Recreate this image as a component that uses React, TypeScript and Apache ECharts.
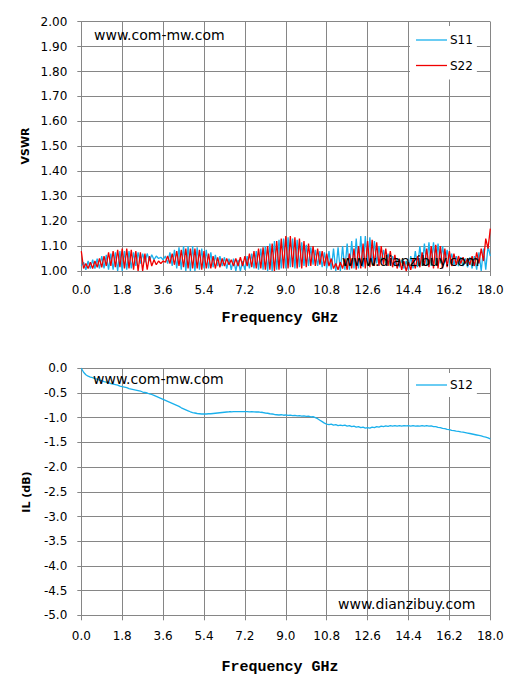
import React, { useEffect, useRef } from "react";
import * as echarts from "echarts";

const FREQ_START = 0;
const FREQ_STEP = 0.1;

const X_TICKS = ["0.0", "1.8", "3.6", "5.4", "7.2", "9.0", "10.8", "12.6", "14.4", "16.2", "18.0"];

const S11 = [
  1.02, 1.035, 1.005, 1.04, 1.01, 1.045, 1.01, 1.05, 1.01, 1.06,
  1.01, 1.065, 1.005, 1.07, 1.005, 1.075, 1.0, 1.08, 1.0, 1.08,
  1.005, 1.08, 1.01, 1.075, 1.02, 1.075, 1.03, 1.07, 1.035, 1.07,
  1.04, 1.065, 1.045, 1.06, 1.05, 1.055, 1.045, 1.06, 1.03, 1.075,
  1.02, 1.085, 1.01, 1.095, 1.005, 1.1, 1.0, 1.1, 1.0, 1.1,
  1.0, 1.095, 1.005, 1.09, 1.01, 1.085, 1.01, 1.075, 1.015, 1.065,
  1.02, 1.06, 1.02, 1.055, 1.01, 1.05, 1.005, 1.05, 1.0, 1.045,
  1.0, 1.04, 1.005, 1.06, 1.01, 1.07, 1.01, 1.08, 1.005, 1.09,
  1.005, 1.1, 1.0, 1.11, 1.0, 1.12, 1.005, 1.125, 1.01, 1.13,
  1.01, 1.135, 1.015, 1.13, 1.01, 1.125, 1.015, 1.115, 1.02, 1.105,
  1.02, 1.095, 1.025, 1.085, 1.02, 1.08, 1.015, 1.075, 1.01, 1.08,
  1.005, 1.09, 1.0, 1.095, 1.0, 1.1, 1.005, 1.11, 1.005, 1.12,
  1.01, 1.13, 1.01, 1.14, 1.015, 1.14, 1.02, 1.135, 1.025, 1.12,
  1.03, 1.1, 1.035, 1.085, 1.03, 1.07, 1.025, 1.06, 1.02, 1.05,
  1.015, 1.045, 1.01, 1.04, 1.005, 1.06, 1.01, 1.08, 1.015, 1.1,
  1.02, 1.11, 1.02, 1.115, 1.02, 1.115, 1.025, 1.11, 1.03, 1.1,
  1.035, 1.085, 1.03, 1.07, 1.025, 1.06, 1.02, 1.055, 1.02, 1.05,
  1.015, 1.055, 1.01, 1.06, 1.005, 1.075, 1.0, 1.09, 1.005, 1.1,
  1.06,
];

const S22 = [
  1.08, 1.01, 1.03, 1.01, 1.035, 1.01, 1.04, 1.015, 1.05, 1.015,
  1.06, 1.02, 1.075, 1.02, 1.08, 1.015, 1.085, 1.015, 1.09, 1.01,
  1.09, 1.01, 1.085, 1.005, 1.08, 1.0, 1.075, 1.0, 1.07, 1.005,
  1.06, 1.02, 1.045, 1.025, 1.04, 1.03, 1.04, 1.035, 1.06, 1.03,
  1.07, 1.025, 1.08, 1.02, 1.085, 1.015, 1.09, 1.01, 1.09, 1.01,
  1.09, 1.01, 1.085, 1.005, 1.08, 1.01, 1.07, 1.01, 1.06, 1.01,
  1.055, 1.015, 1.05, 1.02, 1.05, 1.025, 1.045, 1.02, 1.05, 1.02,
  1.055, 1.02, 1.06, 1.02, 1.07, 1.015, 1.08, 1.01, 1.09, 1.01,
  1.095, 1.005, 1.1, 1.005, 1.11, 1.0, 1.12, 1.005, 1.13, 1.01,
  1.14, 1.01, 1.14, 1.015, 1.135, 1.01, 1.13, 1.01, 1.12, 1.015,
  1.11, 1.02, 1.1, 1.02, 1.09, 1.025, 1.08, 1.02, 1.07, 1.02,
  1.05, 1.01, 1.03, 1.005, 1.035, 1.01, 1.05, 1.005, 1.07, 1.01,
  1.09, 1.005, 1.1, 1.01, 1.11, 1.01, 1.12, 1.015, 1.125, 1.02,
  1.115, 1.02, 1.1, 1.025, 1.09, 1.02, 1.08, 1.015, 1.065, 1.01,
  1.05, 1.005, 1.04, 1.0, 1.035, 1.005, 1.05, 1.01, 1.06, 1.015,
  1.075, 1.02, 1.09, 1.015, 1.1, 1.01, 1.105, 1.01, 1.1, 1.01,
  1.09, 1.015, 1.08, 1.02, 1.07, 1.025, 1.06, 1.03, 1.055, 1.03,
  1.05, 1.025, 1.06, 1.02, 1.075, 1.03, 1.09, 1.04, 1.13, 1.09,
  1.17,
];

const S12 = [
  0.0, -0.08, -0.13, -0.16, -0.18, -0.19, -0.21, -0.22, -0.24, -0.25,
  -0.27, -0.28, -0.29, -0.31, -0.32, -0.33, -0.34, -0.36, -0.37, -0.38,
  -0.39, -0.41, -0.42, -0.43, -0.44, -0.45, -0.46, -0.48, -0.49, -0.5,
  -0.52, -0.53, -0.55, -0.57, -0.59, -0.61, -0.63, -0.65, -0.67, -0.69,
  -0.71, -0.73, -0.75, -0.77, -0.8, -0.82, -0.84, -0.86, -0.88, -0.895,
  -0.905, -0.915, -0.92, -0.925, -0.925, -0.925, -0.92, -0.92, -0.915, -0.91,
  -0.905, -0.9, -0.895, -0.89, -0.885, -0.88, -0.88, -0.875, -0.875, -0.875,
  -0.875, -0.875, -0.875, -0.875, -0.88, -0.875, -0.88, -0.885, -0.88, -0.89,
  -0.895, -0.905, -0.91, -0.92, -0.925, -0.935, -0.94, -0.945, -0.94, -0.95,
  -0.945, -0.955, -0.95, -0.96, -0.955, -0.965, -0.96, -0.97, -0.965, -0.975,
  -0.97, -0.985, -0.98, -1.0, -1.02, -1.05, -1.08, -1.11, -1.13, -1.14,
  -1.13, -1.15, -1.14, -1.16, -1.15, -1.16, -1.15, -1.17, -1.16, -1.18,
  -1.17, -1.19, -1.18, -1.2, -1.19, -1.21, -1.2, -1.21, -1.19, -1.2,
  -1.18, -1.19, -1.17, -1.18, -1.165, -1.175, -1.16, -1.17, -1.16, -1.17,
  -1.16, -1.17, -1.16, -1.165, -1.16, -1.17, -1.16, -1.17, -1.165, -1.17,
  -1.16, -1.17, -1.16, -1.17, -1.165, -1.18, -1.18, -1.195, -1.2, -1.215,
  -1.22, -1.235, -1.24, -1.255, -1.26, -1.27, -1.275, -1.285, -1.29, -1.3,
  -1.31, -1.32, -1.33, -1.34, -1.35, -1.36, -1.37, -1.385, -1.395, -1.41,
  -1.43,
];

const pairs = (vals: number[]) =>
  vals.map((v, i) => [+(FREQ_START + i * FREQ_STEP).toFixed(2), v]);

const GRID_COLOR = "#868686";
const TICK_FONT = "DejaVu Sans";
const CYAN = "#1AB0EC";
const RED = "#F00000";

export default function App() {
  const ref = useRef<HTMLDivElement>(null);
  useEffect(() => {
    if (!ref.current) return;
    const chart = echarts.init(ref.current, undefined, { renderer: "svg" });

    const xAxisBase = (gridIndex: number, margin: number) => ({
      type: "value" as const,
      gridIndex,
      min: 0,
      max: 18,
      interval: 1.8,
      axisLine: { show: true, onZero: false, lineStyle: { color: GRID_COLOR, width: 1 } },
      axisTick: { show: true, length: 5, lineStyle: { color: GRID_COLOR } },
      splitLine: { show: true, lineStyle: { color: GRID_COLOR, width: 1 } },
      axisLabel: {
        margin,
        color: "#000",
        fontSize: 12,
        fontFamily: TICK_FONT,
        formatter: (v: number) => X_TICKS[Math.round(v / 1.8)] ?? v.toFixed(1),
      },
    });

    const legendText = { color: "#000", fontSize: 12, fontFamily: TICK_FONT, padding: [0, 0, 0, -2] };

    const option: any = {
      animation: false,
      backgroundColor: "#fff",
      grid: [
        { left: 81.3, right: 25.7, top: 21.7, height: 249.3, containLabel: false },
        { left: 81.3, right: 25.7, top: 368.3, height: 247, containLabel: false },
      ],
      xAxis: [xAxisBase(0, 13), xAxisBase(1, 15)],
      yAxis: [
        {
          type: "value",
          gridIndex: 0,
          min: 1,
          max: 2,
          interval: 0.1,
          axisLine: { show: true, lineStyle: { color: GRID_COLOR } },
          axisTick: { show: true, length: 4, lineStyle: { color: GRID_COLOR } },
          splitLine: { show: true, lineStyle: { color: GRID_COLOR } },
          axisLabel: {
            margin: 14,
            color: "#000",
            fontSize: 12,
            fontFamily: TICK_FONT,
            formatter: (v: number) => v.toFixed(2),
          },
        },
        {
          type: "value",
          gridIndex: 1,
          min: -5,
          max: 0,
          interval: 0.5,
          axisLine: { show: true, onZero: false, lineStyle: { color: GRID_COLOR } },
          axisTick: { show: true, length: 4, lineStyle: { color: GRID_COLOR } },
          splitLine: { show: true, lineStyle: { color: GRID_COLOR } },
          axisLabel: {
            margin: 14,
            color: "#000",
            fontSize: 12,
            fontFamily: TICK_FONT,
            formatter: (v: number) => v.toFixed(1),
          },
        },
      ],
      legend: [
        {
          data: [
            { name: "S11", icon: "rect", itemStyle: { color: CYAN, borderWidth: 0 } },
            { name: "S22", icon: "rect", itemStyle: { color: RED, borderWidth: 0 } },
          ],
          orient: "vertical",
          left: 410,
          top: 26,
          padding: [8, 4, 8, 6],
          itemGap: 13.5,
          itemWidth: 31,
          itemHeight: 1.3,
          backgroundColor: "#fff",
          textStyle: legendText,
        },
        {
          data: [{ name: "S12", icon: "rect", itemStyle: { color: CYAN, borderWidth: 0 } }],
          orient: "vertical",
          left: 410,
          top: 373,
          padding: [6, 4, 6, 6],
          itemWidth: 31,
          itemHeight: 1.3,
          backgroundColor: "#fff",
          textStyle: legendText,
        },
      ],
      series: [
        {
          name: "S11",
          type: "line",
          xAxisIndex: 0,
          yAxisIndex: 0,
          data: pairs(S11),
          showSymbol: false,
          symbol: "none",
          color: CYAN,
          lineStyle: { color: CYAN, width: 1.3 },
          z: 2,
        },
        {
          name: "S22",
          type: "line",
          xAxisIndex: 0,
          yAxisIndex: 0,
          data: pairs(S22),
          showSymbol: false,
          symbol: "none",
          color: RED,
          lineStyle: { color: RED, width: 1.3 },
          z: 3,
        },
        {
          name: "S12",
          type: "line",
          xAxisIndex: 1,
          yAxisIndex: 1,
          data: pairs(S12),
          showSymbol: false,
          symbol: "none",
          color: CYAN,
          lineStyle: { color: CYAN, width: 1.3 },
          z: 2,
        },
      ],
      graphic: [
        {
          type: "text",
          x: 94,
          y: 34.5,
          z: 100,
          style: { text: "www.com-mw.com", fill: "#000", fontSize: 14, fontFamily: TICK_FONT, align: "left", verticalAlign: "middle" },
        },
        {
          type: "text",
          x: 342,
          y: 261,
          z: 100,
          style: { text: "www.dianzibuy.com", fill: "#000", fontSize: 14, fontFamily: TICK_FONT, align: "left", verticalAlign: "middle" },
        },
        {
          type: "text",
          x: 93,
          y: 379,
          z: 100,
          style: { text: "www.com-mw.com", fill: "#000", fontSize: 14, fontFamily: TICK_FONT, align: "left", verticalAlign: "middle" },
        },
        {
          type: "text",
          x: 338,
          y: 603.5,
          z: 100,
          style: { text: "www.dianzibuy.com", fill: "#000", fontSize: 14, fontFamily: TICK_FONT, align: "left", verticalAlign: "middle" },
        },
        {
          type: "text",
          x: 280,
          y: 318.5,
          z: 100,
          style: { text: "Frequency GHz", fill: "#000", fontSize: 15, fontWeight: "bold", fontFamily: "Liberation Mono", align: "center", verticalAlign: "middle" },
        },
        {
          type: "text",
          x: 280,
          y: 667.5,
          z: 100,
          style: { text: "Frequency GHz", fill: "#000", fontSize: 15, fontWeight: "bold", fontFamily: "Liberation Mono", align: "center", verticalAlign: "middle" },
        },
        {
          type: "text",
          x: 25,
          y: 146,
          rotation: Math.PI / 2,
          z: 100,
          style: { text: "VSWR", fill: "#000", fontSize: 11, fontWeight: "bold", fontFamily: TICK_FONT, align: "center", verticalAlign: "middle" },
        },
        {
          type: "text",
          x: 26,
          y: 492,
          rotation: Math.PI / 2,
          z: 100,
          style: { text: "IL (dB)", fill: "#000", fontSize: 11, fontWeight: "bold", fontFamily: TICK_FONT, align: "center", verticalAlign: "middle" },
        },
      ],
    };

    chart.setOption(option);
    return () => chart.dispose();
  }, []);

  return (
    <div
      ref={ref}
      style={{ position: "absolute", left: 0, top: 0, width: 516, height: 691 }}
    />
  );
}
